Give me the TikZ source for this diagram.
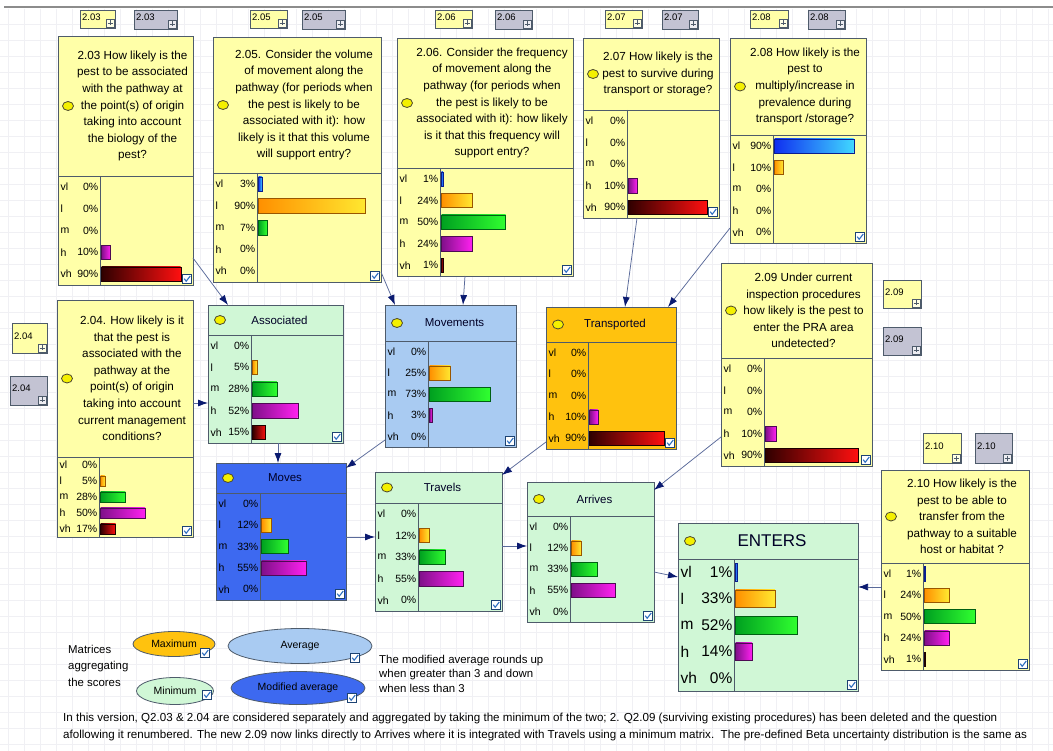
\documentclass[tikz,border=0pt]{standalone}
\usepackage{fontspec}
\setmainfont{Liberation Sans}
\usetikzlibrary{arrows.meta,calc,fit,shapes.geometric}

\definecolor{qyellow}{HTML}{FFFFA8}
\definecolor{bord}{HTML}{4E5B6B}
\definecolor{aggreen}{HTML}{D0F7D6}
\definecolor{agblue}{HTML}{A9CBF2}
\definecolor{agorange}{HTML}{FFC20E}
\definecolor{agdeep}{HTML}{3D69F0}
\definecolor{smallgray}{HTML}{C3C3D3}
\definecolor{lineblue}{HTML}{5A6A9A}
\definecolor{tipnavy}{HTML}{0A1A70}
\definecolor{vlA}{HTML}{1030F0}\definecolor{vlB}{HTML}{40D8FF}
\definecolor{lA}{HTML}{FF9000}\definecolor{lB}{HTML}{FFE830}
\definecolor{mA}{HTML}{00A020}\definecolor{mB}{HTML}{30FF30}
\definecolor{hA}{HTML}{80108A}\definecolor{hB}{HTML}{FF20F0}
\definecolor{vhA}{HTML}{300000}\definecolor{vhB}{HTML}{FF1010}
\definecolor{iconyel}{HTML}{F4F000}
\definecolor{chkblue}{HTML}{3070C0}
\definecolor{gridc}{HTML}{F0F0F4}

\newcommand\qfont{\fontsize{11.7}{16.6}\selectfont}
\newcommand\lfont{\fontsize{10.5}{12}\selectfont}
\newcommand\afont{\fontsize{11.5}{13}\selectfont}
\newcommand\efont{\fontsize{15.5}{18}\selectfont}
\newcommand\tfont{\fontsize{9.5}{10}\selectfont}

\newcommand\chk[2]{%
  \draw[draw=chkblue!60!black, fill=white, line width=0.5pt] ({#1-4.5},{#2-4.5}) rectangle ({#1+4.5},{#2+4.5});
  \draw[chkblue, line width=1.1pt] ({#1-2.8},{#2-0.3}) -- ({#1-0.8},{#2+2.3}) -- ({#1+3.2},{#2-3});
}
\newcommand\nicon[2]{%
  \draw[fill=iconyel, draw=black!60!olive, line width=0.8pt] ({#1},{#2}) ellipse (5.5pt and 4.5pt);
}
\newcommand\smalltag[7]{%
  \node[box, fill=#6, fit={(#2,#3)(#4,#5)}] (#1) {};
  \node[font=\tfont, anchor=west, inner sep=0] (#1t) at ({#2+2},{(#3+#5)/2-2}) {#7};
  \draw[bord, fill=white!70!#6, line width=0.5pt] ({#4-9},{#5-9}) rectangle ({#4-1},{#5-1});
  \draw[bord, line width=0.5pt] ({#4-5},{#5-7.5}) -- ({#4-5},{#5-2.5}) ({#4-7.5},{#5-5}) -- ({#4-2.5},{#5-5});
}
\newcommand\qbox[8]{%
  \node[box, fill=#8, fit={(#2,#3)(#4,#5)}] (#1) {};
  \nicon{#2+10}{(#3+#6)/2}
  \node[align=center, font=\qfont, inner sep=0] (#1t) at ({(#2+14+#4)/2},{(#3+#6)/2}) {#7};
}
\newcommand\abox[9]{%
  \node[box, fill=#8, fit={(#2,#3)(#4,#5)}] (#1) {};
  \nicon{#2+12}{(#3+#6)/2}
  \node[font=#9, text=black!85!blue, inner sep=0] (#1t) at ({(#2+#4)/2+4},{(#3+#6)/2}) {#7};
}
% name, x1, xcol, x2, ydiv, y2, values, font
\newcommand\probs[8]{%
  \draw[bord, line width=0.8pt] (#2,#5) -- (#4,#5);
  \draw[bord, line width=0.8pt] (#3,#5) -- (#3,#6);
  \pgfmathsetmacro\rowh{(#6-#5)/5}
  \pgfmathsetmacro\bfull{#4-#3-5}
  \pgfmathsetmacro\bh{min(0.33*\rowh,9.5)}
  \foreach \lab/\cA/\cB [count=\i] in {vl/vlA/vlB,l/lA/lB,m/mA/mB,h/hA/hB,vh/vhA/vhB}{%
    \pgfmathtruncatemacro\v{{#7}[\i-1]}%
    \pgfmathsetmacro\yc{#5+(\i-0.5)*\rowh}%
    \node[anchor=west, font=#8, inner sep=0] (#1l\i) at ({#2+2.5},\yc) {\lab};%
    \node[anchor=east, font=#8, inner sep=0] (#1p\i) at ({#3-1.5},\yc) {\v\%};%
    \ifnum\v>0
      \shadedraw[left color=\cA, right color=\cB, draw=\cA!60!black, line width=0.3pt] ({#3+1.5},{\yc-\bh}) rectangle ({#3+1.5+\v/100*\bfull},{\yc+\bh});
    \fi
  }%
  \chk{#4-6}{#6-6}%
}

\begin{document}
\begin{tikzpicture}[x=1pt,y=-1pt,
  box/.style={draw=bord, line width=0.8pt, inner sep=0pt, outer sep=0pt},
  arr/.style={draw=lineblue, line width=0.75pt, -{Latex[length=10pt,width=7pt,color=tipnavy]}},
  legell/.style={ellipse, draw=bord, line width=0.8pt, inner sep=0pt, font=\fontsize{10.5}{12}\selectfont}]
\useasboundingbox (0,0) rectangle (1053,751);
\fill[white] (0,0) rectangle (1053,751);
\foreach \gx in {8,24,...,1053} \draw[gridc, line width=0.5pt] (\gx,9) -- (\gx,751);
\foreach \gy in {24,40,...,751} \draw[gridc, line width=0.5pt] (0,\gy) -- (1053,\gy);
\draw[black!45, line width=1.5pt] (4,7) -- (1053,7);

% small tags
\smalltag{t203a}{80}{10}{115}{28}{qyellow}{2.03}
\smalltag{t203b}{134}{10}{177}{29}{smallgray}{2.03}
\smalltag{t205a}{250}{10}{287}{28}{qyellow}{2.05}
\smalltag{t205b}{302}{10}{345}{29}{smallgray}{2.05}
\smalltag{t206a}{435}{10}{472}{28}{qyellow}{2.06}
\smalltag{t206b}{495}{10}{532}{29}{smallgray}{2.06}
\smalltag{t207a}{605}{10}{642}{28}{qyellow}{2.07}
\smalltag{t207b}{662}{10}{698}{29}{smallgray}{2.07}
\smalltag{t208a}{750}{10}{788}{28}{qyellow}{2.08}
\smalltag{t208b}{808}{10}{845}{29}{smallgray}{2.08}
\smalltag{t204a}{12}{323}{47}{353}{qyellow}{2.04}
\smalltag{t204b}{10}{376}{47}{405}{smallgray}{2.04}
\smalltag{t209a}{883}{280}{921}{308}{qyellow}{2.09}
\smalltag{t209b}{883}{327}{921}{355}{smallgray}{2.09}
\smalltag{t210a}{923}{433}{961}{463}{qyellow}{2.10}
\smalltag{t210b}{975}{433}{1012}{463}{smallgray}{2.10}

% question boxes
\qbox{q203}{58}{36}{193}{285}{176}{2.03 How likely is the\\ pest to be associated\\ with the pathway at\\ the point(s) of origin\\ taking into account\\ the biology of the\\ pest?}{qyellow}
\probs{q203}{58}{100}{193}{176}{285}{0,0,0,10,90}{\lfont}

\qbox{q205}{213}{37}{381}{282}{173}{2.05. Consider the volume\\ of movement along the\\ pathway (for periods when\\ the pest is likely to be\\ associated with it): how\\ likely is it that this volume\\ will support entry?}{qyellow}
\probs{q205}{213}{257}{381}{173}{282}{3,90,7,0,0}{\lfont}

\qbox{q206}{397}{38}{573}{276}{168}{2.06. Consider the frequency\\ of movement along the\\ pathway (for periods when\\ the pest is likely to be\\ associated with it): how likely\\ is it that this frequency will\\ support entry?}{qyellow}
\probs{q206}{397}{440}{573}{168}{276}{1,24,50,24,1}{\lfont}

\qbox{q207}{583}{38}{719}{218}{110}{2.07 How likely is the\\ pest to survive during\\ transport or storage?}{qyellow}
\probs{q207}{583}{627}{719}{110}{218}{0,0,0,10,90}{\lfont}

\qbox{q208}{730}{38}{866}{243}{135}{2.08 How likely is the\\ pest to\\ multiply/increase in\\ prevalence during\\ transport /storage?}{qyellow}
\probs{q208}{730}{773}{866}{135}{243}{90,10,0,0,0}{\lfont}

\qbox{q204}{57}{300}{193}{537}{457}{2.04. How likely is it\\ that the pest is\\ associated with the\\ pathway at the\\ point(s) of origin\\ taking into account\\ current management\\ conditions?}{qyellow}
\probs{q204}{57}{99}{193}{457}{537}{0,5,28,50,17}{\lfont}

\qbox{q209}{721}{263}{872}{466}{358}{2.09 Under current\\ inspection procedures\\ how likely is the pest to\\ enter the PRA area\\ undetected?}{qyellow}
\probs{q209}{721}{764}{872}{358}{466}{0,0,0,10,90}{\lfont}

\qbox{q210}{881}{470}{1029}{670}{563}{2.10 How likely is the\\ pest to be able to\\ transfer from the\\ pathway to a suitable\\ host or habitat ?}{qyellow}
\probs{q210}{881}{923}{1029}{563}{670}{1,24,50,24,1}{\lfont}

% aggregation boxes
\abox{assoc}{208}{305}{343}{443}{335}{Associated}{aggreen}{\afont}
\probs{assoc}{208}{251}{343}{335}{443}{0,5,28,52,15}{\lfont}

\abox{mov}{385}{305}{516}{447}{341}{Movements}{agblue}{\afont}
\probs{mov}{385}{428}{516}{341}{447}{0,25,73,3,0}{\lfont}

\abox{transp}{546}{307}{676}{449}{342}{Transported}{agorange}{\afont}
\probs{transp}{546}{588}{676}{342}{449}{0,0,0,10,90}{\lfont}

\abox{moves}{216}{463}{346}{600}{493}{Moves}{agdeep}{\afont}
\probs{moves}{216}{260}{346}{493}{600}{0,12,33,55,0}{\lfont}

\abox{travels}{375}{472}{502}{611}{503}{Travels}{aggreen}{\afont}
\probs{travels}{375}{418}{502}{503}{611}{0,12,33,55,0}{\lfont}

\abox{arrives}{527}{482}{654}{622}{516}{Arrives}{aggreen}{\afont}
\probs{arrives}{527}{570}{654}{516}{622}{0,12,33,55,0}{\lfont}

\abox{enters}{678}{523}{858}{691}{559}{ENTERS}{aggreen}{\fontsize{17}{20}\selectfont}
\probs{enters}{678}{734}{858}{559}{691}{1,33,52,14,0}{\efont}

% connectors
\draw[arr] ($(q203.south east)+(0,-27)$) -- ($(assoc.north west)+(20,0)$);
\draw[arr] ($(q205.south east)+(0,-10)$) -- ($(mov.north west)+(10,0)$);
\draw[arr] ($(q206.south west)+(68,0)$) -- ($(mov.north west)+(78,0)$);
\draw[arr] ($(q207.south west)+(54,0)$) -- ($(transp.north west)+(79,0)$);
\draw[arr] ($(q208.south west)+(0,-15)$) -- ($(transp.north east)+(-8,0)$);
\draw[arr] ($(q204.north east)+(0,103)$) -- ($(assoc.north west)+(0,98)$);
\draw[arr] ($(assoc.south west)+(70,0)$) -- ($(moves.north west)+(62,0)$);
\draw[arr] ($(mov.south west)+(0,-7)$) -- ($(moves.north east)+(0,5)$);
\draw[arr] ($(transp.south west)+(0,-7)$) -- ($(travels.north east)+(0,3)$);
\draw[arr] ($(moves.north east)+(0,74)$) -- ($(travels.north west)+(0,65)$);
\draw[arr] ($(travels.north east)+(0,74)$) -- ($(arrives.north west)+(0,64)$);
\draw[arr] ($(q209.south west)+(0,-29)$) -- ($(arrives.north east)+(0,8)$);
\draw[arr] ($(arrives.north east)+(0,90)$) -- ($(enters.north west)+(0,54)$);
\draw[arr] ($(q210.north west)+(0,117)$) -- ($(enters.north east)+(0,64)$);

% legend
\node[anchor=north west, align=left, font=\fontsize{11.4}{16.5}\selectfont, inner sep=0] (legtxt) at (68,645) {Matrices\\ aggregating\\ the scores};
\node[legell, fill=agorange, minimum width=82pt, minimum height=25pt] (lmax) at (174,644) {Maximum};
\node[legell, fill=aggreen, minimum width=77pt, minimum height=27pt] (lmin) at (175,691) {Minimum};
\node[legell, fill=agblue, minimum width=144pt, minimum height=35pt] (lavg) at (300,646) {Average};
\node[legell, fill=agdeep, minimum width=134pt, minimum height=33pt] (lmod) at (298,688) {Modified average};
\chk{205}{653}
\chk{207}{695}
\chk{355}{658}
\chk{352}{698}
\node[anchor=north west, align=left, font=\fontsize{11.4}{14.5}\selectfont, inner sep=0] (modnote) at (379,655) {The modified average rounds up\\ when greater than 3 and down\\ when less than 3};

\node[anchor=north west, align=left, font=\fontsize{11.6}{17}\selectfont, inner sep=0] (note) at (63,713) {In this version, Q2.03 \& 2.04 are considered separately and aggregated by taking the minimum of the two; 2. Q2.09 (surviving existing procedures) has been deleted and the question\\ afollowing it renumbered. The new 2.09 now links directly to Arrives where it is integrated with Travels using a minimum matrix.\ \ The pre-defined Beta uncertainty distribution is the same as};
\end{tikzpicture}
\end{document}
